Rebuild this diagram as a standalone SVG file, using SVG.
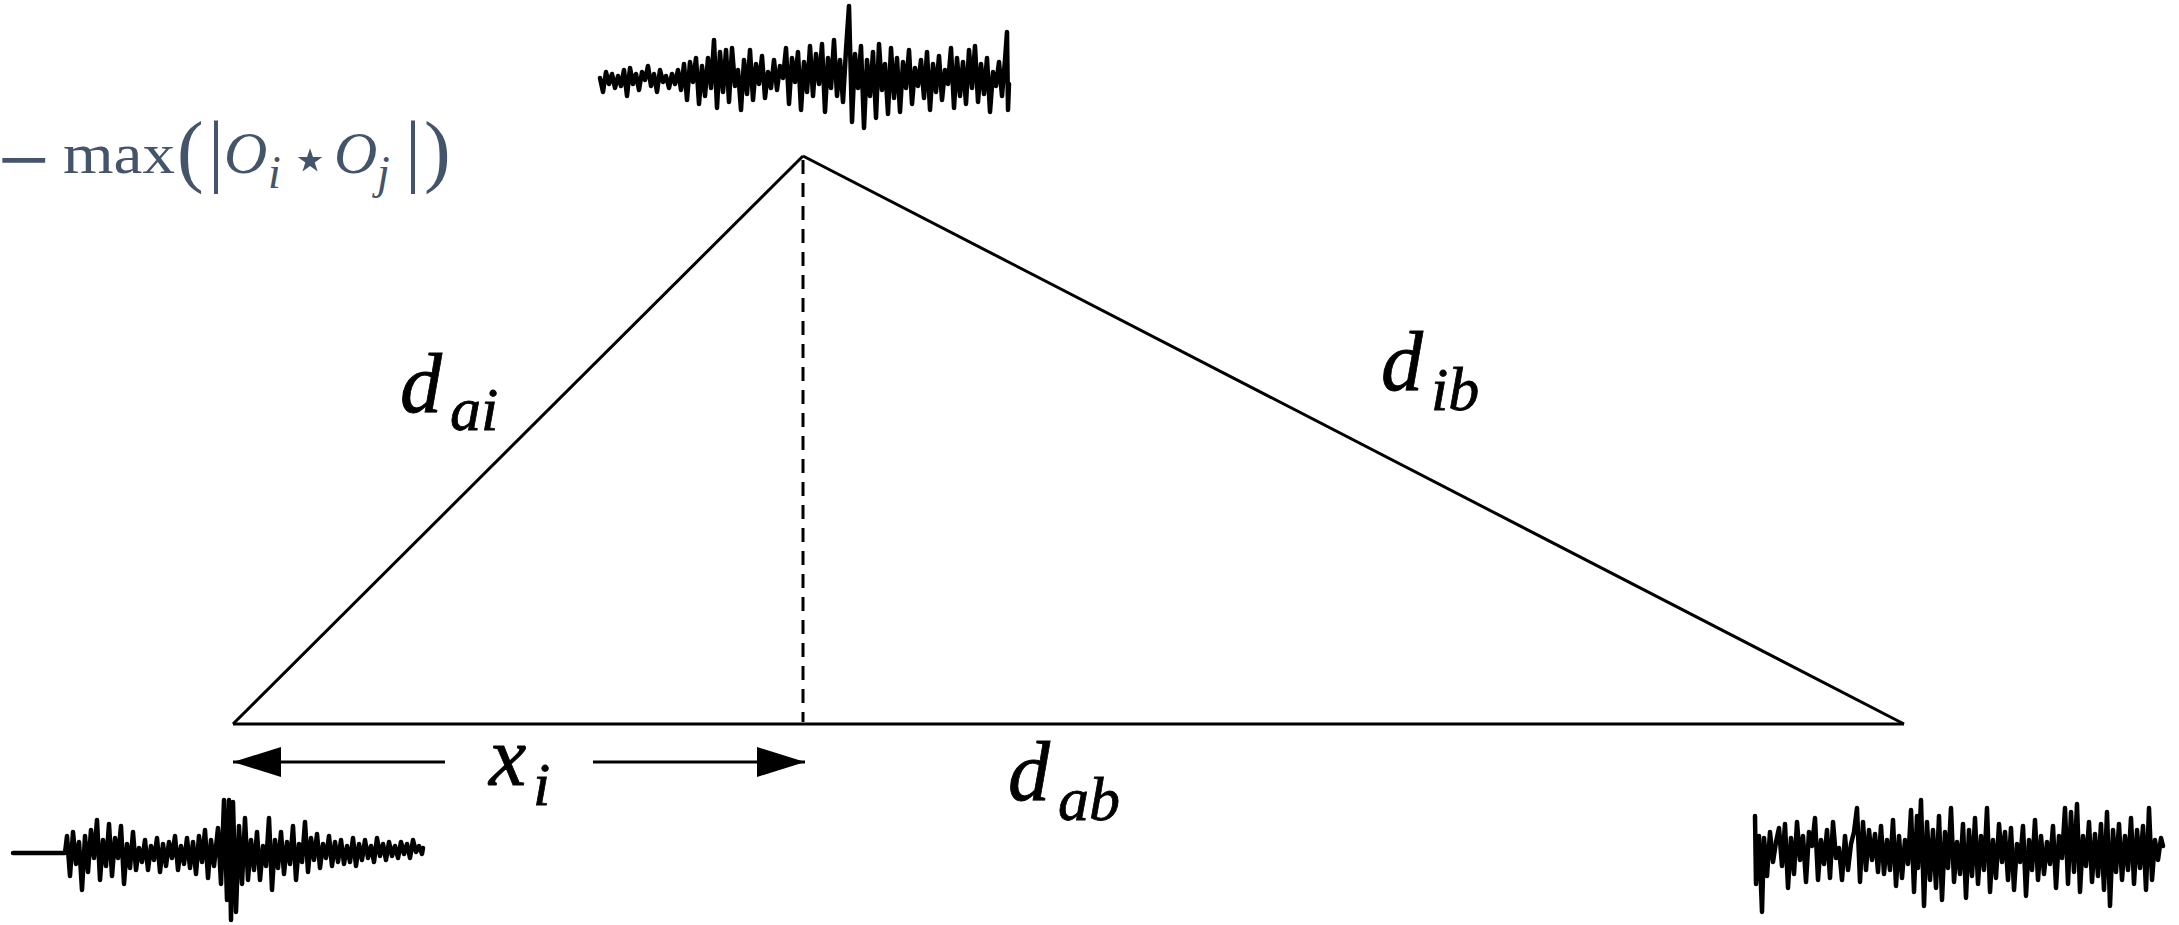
<svg xmlns="http://www.w3.org/2000/svg" width="2179" height="925" viewBox="0 0 2179 925">
<style>
.edge{fill:none;stroke:#000;stroke-width:3;stroke-linejoin:miter}
.dash{fill:none;stroke:#000;stroke-width:3;stroke-dasharray:14 9}
.wave{fill:none;stroke:#000;stroke-width:4.5;stroke-linejoin:round;stroke-linecap:round}
.m{font-family:"Liberation Serif",serif;font-style:italic;fill:#000;stroke:#000;stroke-width:0.8}
.big{font-size:84px}
.sub{font-size:62px}
.f{font-family:"Liberation Serif",serif;fill:#44546A}
</style>
<defs>
<marker id="ah" viewBox="0 0 10 10" refX="10" refY="5" markerWidth="48" markerHeight="30" markerUnits="userSpaceOnUse" orient="auto" preserveAspectRatio="none">
<path d="M0,0 L10,5 L0,10 z" fill="#000"/>
</marker>
</defs>
<rect width="2179" height="925" fill="#fff"/>

<g id="formula" class="f">
<text x="-2" y="191" font-size="92">−</text>
<text x="63" y="173" font-size="58" textLength="112" lengthAdjust="spacingAndGlyphs">max</text>
<text x="177" y="177" font-size="80">(</text>
<text x="208" y="177" font-size="80">|</text>
<text x="224" y="173" font-size="60" font-style="italic">O</text>
<text x="268" y="188" font-size="46" font-style="italic">i</text>
<text x="290" y="181" font-size="64" font-family="DejaVu Sans">⋆</text>
<text x="334" y="173" font-size="60" font-style="italic">O</text>
<text x="377" y="188" font-size="46" font-style="italic">j</text>
<text x="405" y="177" font-size="80">|</text>
<text x="424" y="177" font-size="80">)</text>
</g>

<g id="connectors">
<path id="side-ai" class="edge" d="M233,724 L803,156"/>
<path id="side-ib" class="edge" d="M803,156 L1904,724"/>
<path id="side-ab" class="edge" d="M233,724 L1904,724"/>
<path id="height" class="dash" d="M803,160 L803,722"/>
<path id="arrow-left" class="edge" d="M445,762 L233,762" marker-end="url(#ah)"/>
<path id="arrow-right" class="edge" d="M593,762 L805,762" marker-end="url(#ah)"/>
</g>

<g id="label-dai" class="m">
<text class="big" x="400" y="412">d</text>
<text class="sub" x="450" y="430">ai</text>
</g>
<g id="label-dib" class="m">
<text class="big" x="1381" y="390">d</text>
<text class="sub" x="1431" y="410">ib</text>
</g>
<g id="label-dab" class="m">
<text class="big" x="1008" y="800">d</text>
<text class="sub" x="1058" y="820">ab</text>
</g>
<g id="label-xi" class="m">
<text class="big" x="489" y="785">x</text>
<text class="sub" x="533" y="805">i</text>
</g>

<g id="wave-top">
<polyline class="wave" points="600,78 603,92 606,72 609,84 612,74 615,88 618,76 621,86 624,70 627,96 630,68 633,84 636,74 639,90 642,72 645,80 648,66 651,86 654,74 657,92 660,70 663,82 666,76 669,88 672,74 675,84 678,70 681,90 684,64 687,100 690,62 693,82 696,58 699,104 702,66 705,96 708,58 711,88 714,40 717,108 720,52 723,92 726,50 729,102 732,48 735,86 738,70 741,110 744,60 747,94 750,50 753,100 756,64 759,84 762,56 765,98 768,72 771,88 774,60 777,90 780,66 783,78 786,48 789,104 792,58 795,82 798,52 801,110 804,62 807,92 810,46 813,96 816,54 819,84 822,44 825,112 828,58 831,88 834,40 837,96 840,60 843,102 846,50 849,6 852,122 855,54 858,88 861,46 864,128 867,60 870,96 873,52 876,118 879,44 882,90 885,64 888,114 891,48 894,98 897,58 900,112 903,62 906,88 909,50 912,104 915,68 918,86 921,60 924,98 927,52 930,110 933,64 936,92 939,56 942,100 945,70 948,84 951,48 954,108 957,58 960,96 963,62 966,104 969,50 972,88 975,46 978,102 981,64 984,94 987,58 990,112 993,72 996,86 999,62 1002,96 1005,60 1007,32 1008,110 1009,84"/>
</g>

<g id="wave-left">
<polyline class="wave" points="13,853 65,853 67,836 70,876 73,832 76,864 79,842 82,890 85,836 88,872 91,830 94,858 97,820 100,880 103,840 106,866 109,824 112,876 115,838 118,858 121,826 124,884 127,844 130,868 133,832 136,870 139,848 142,862 145,840 148,870 151,846 154,860 157,838 160,872 163,844 166,866 169,842 172,858 175,836 178,870 181,846 184,864 187,838 190,868 193,842 196,874 199,836 202,862 205,830 208,878 211,840 214,866 218,828 221,884 224,800 227,900 229,800 231,920 233,802 236,912 239,826 242,884 245,818 248,880 251,840 254,870 257,832 260,880 263,846 266,866 269,818 272,890 275,840 278,868 281,832 284,874 287,842 290,864 293,826 296,880 299,844 302,862 305,822 308,872 311,838 314,860 317,834 320,868 323,844 326,858 329,836 332,866 335,842 338,862 341,840 344,864 347,846 350,862 353,838 356,866 359,844 362,860 365,840 368,858 371,846 374,862 377,838 380,856 383,844 386,860 389,842 392,856 395,846 398,858 401,842 404,854 407,844 410,858 413,840 416,852 419,846 422,854 423,848"/>
</g>

<g id="wave-right">
<polyline class="wave" points="1755,816 1756,884 1759,836 1762,912 1764,838 1767,876 1770,832 1773,862 1776,842 1779,828 1782,866 1785,824 1788,888 1791,838 1794,874 1797,822 1800,860 1803,836 1806,882 1809,832 1812,846 1815,818 1818,880 1821,840 1824,864 1827,830 1830,878 1833,822 1836,858 1839,848 1842,880 1845,836 1848,870 1851,844 1854,832 1857,808 1860,882 1863,822 1866,870 1869,830 1872,860 1875,834 1878,872 1881,826 1884,874 1887,840 1890,870 1893,820 1896,886 1899,836 1902,878 1905,840 1908,864 1911,810 1914,892 1917,816 1918,868 1921,800 1924,906 1927,822 1930,880 1933,830 1936,888 1939,816 1942,900 1945,832 1948,868 1951,808 1954,882 1957,842 1960,874 1963,824 1966,898 1969,830 1972,876 1975,818 1978,884 1981,836 1984,870 1987,808 1990,892 1993,840 1996,878 1999,824 2002,862 2005,832 2008,880 2011,828 2014,890 2017,844 2020,862 2023,826 2026,896 2029,840 2032,870 2035,820 2038,880 2041,836 2044,874 2047,842 2050,864 2053,826 2056,888 2059,836 2062,858 2065,808 2068,884 2071,812 2074,872 2077,804 2080,892 2083,836 2086,866 2089,822 2092,882 2095,834 2098,876 2101,824 2104,890 2107,812 2110,906 2113,830 2116,872 2119,824 2122,880 2125,836 2128,870 2131,818 2134,884 2137,830 2140,868 2143,826 2146,890 2149,808 2152,880 2155,840 2158,860 2161,838 2163,846"/>
</g>
</svg>
